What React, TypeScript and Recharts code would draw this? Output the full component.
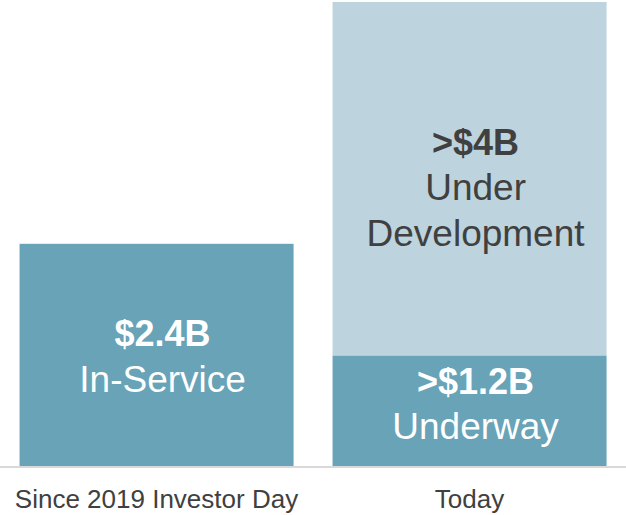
import { BarChart, Bar, XAxis, YAxis } from 'recharts';

// Capital program, $B
const categories = ['Since 2019 Investor Day', 'Today'];
const completedOrUnderway = [2.4, 1.2];
const underDevelopment = [0, 3.8];
const baseTitles = ['$2.4B', '>$1.2B'];
const baseSubtitles = [['In-Service'], ['Underway']];
const devTitles = ['', '>$4B'];
const devSubtitles = [[], ['Under', 'Development']];

const data = categories.map((cat, i) => ({
    cat,
    base: completedOrUnderway[i],
    dev: underDevelopment[i],
}));

const FONT = '"Liberation Sans", Arial, Helvetica, sans-serif';

function makeShape(titles: string[], subs: string[][], fill: string, textColor: string, shifts: number[]) {
    return (props: any) => {
        const { x, y, width, height, index } = props;
        if (!height || height <= 0) return <g />;
        const lines = [titles[index], ...subs[index]];
        const lineH = 45.5;
        const cx = x + width / 2 + 6;
        const startY = y + height / 2 - ((lines.length - 1) * lineH) / 2 + shifts[index];
        return (
            <g>
                <rect x={x} y={y} width={width} height={height} fill={fill} />
                {lines.map((t, k) => (
                    <text
                        key={k}
                        x={cx}
                        y={startY + k * lineH}
                        textAnchor="middle"
                        dominantBaseline="central"
                        fill={textColor}
                        fontFamily={FONT}
                        fontSize={k === 0 ? 36 : 37}
                        fontWeight={k === 0 ? 'bold' : 'normal'}
                    >
                        {t}
                    </text>
                ))}
            </g>
        );
    };
}

export default function App() {
    return (
        <div style={{ width: 626, height: 515 }}>
            <style>{`body{margin:0;background:#fff}`}</style>
            <BarChart
                width={626}
                height={515}
                data={data}
                margin={{ top: 2, right: 0, bottom: 0, left: 0 }}
                barCategoryGap="6.25%"
            >
                <XAxis
                    dataKey="cat"
                    height={48}
                    tickLine={false}
                    axisLine={{ stroke: '#D9D9D9', strokeWidth: 2 }}
                    tick={{ fill: '#404040', fontSize: 26, fontFamily: FONT, dy: 15 }}
                    interval={0}
                />
                <YAxis hide domain={[0, 5]} />
                <Bar
                    dataKey="base"
                    stackId="a"
                    fill="#68A3B8"
                    isAnimationActive={false}
                    shape={makeShape(baseTitles, baseSubtitles, '#68A3B8', '#FFFFFF', [1, -7])}
                />
                <Bar
                    dataKey="dev"
                    stackId="a"
                    fill="#BDD3DE"
                    isAnimationActive={false}
                    shape={makeShape(devTitles, devSubtitles, '#BDD3DE', '#404040', [0, 9])}
                />
            </BarChart>
        </div>
    );
}
